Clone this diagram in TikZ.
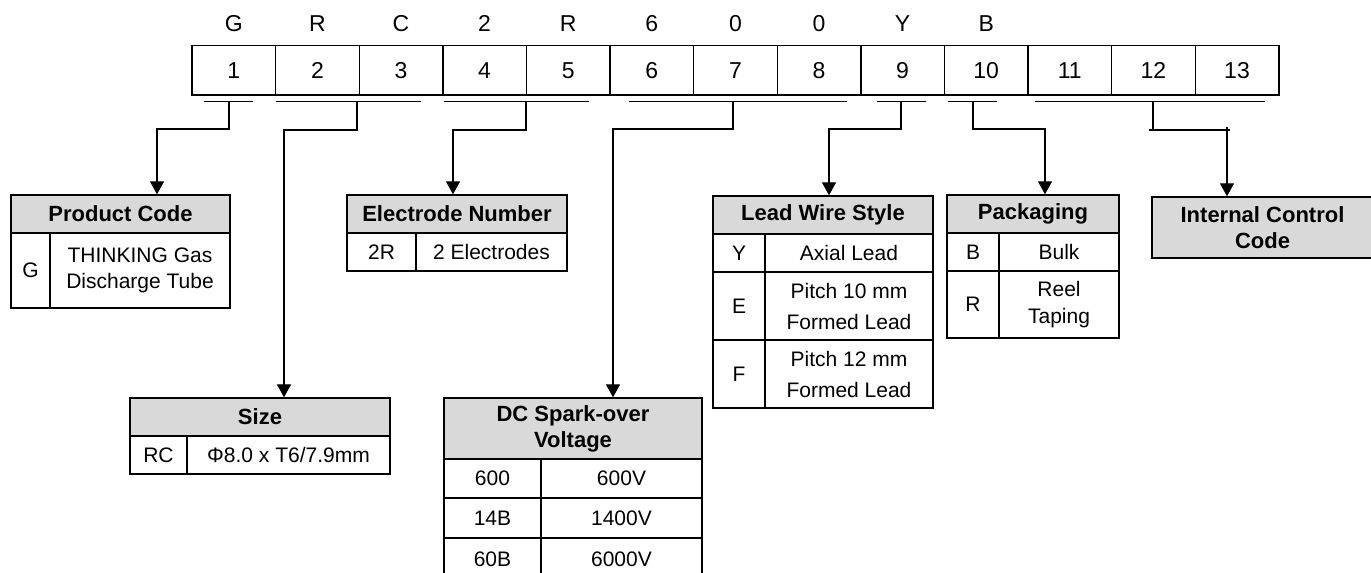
\documentclass[tikz,border=0pt]{standalone}
\usepackage{fontspec}
\setmainfont{Liberation Sans}
\usetikzlibrary{arrows.meta}
\definecolor{hdr}{HTML}{D9D9D9}
\newcommand\tabcell[7][]{\node[#1,minimum width={#4-#2},minimum height={#5-#3}] (#6) at ({(#2+#4)/2},{(#3+#5)/2}) {#7};}
\begin{document}
\begin{tikzpicture}[x=1pt,y=-1pt,
 box/.style={draw,line width=1.4pt,inner sep=0pt,align=center},
 hd/.style={box,fill=hdr,font=\fontsize{22}{26}\selectfont\bfseries},
 bd/.style={box,font=\fontsize{21}{25.5}\selectfont},
 bdw/.style={box,font=\fontsize{21}{31}\selectfont},
 bdp/.style={box,font=\fontsize{21}{27}\selectfont},
 code/.style={draw,line width=1.4pt,minimum width=83.6pt,minimum height=49.5pt,inner sep=0pt,text height=16.5pt,text depth=0pt,font=\fontsize{23}{27}\selectfont},
 letter/.style={font=\fontsize{23}{27}\selectfont,inner sep=0pt,anchor=base},
 uline/.style={line width=1.1pt},
 conn/.style={line width=1.3pt},
 arr/.style={conn,-{Triangle[width=14pt,length=13pt]}}]
\useasboundingbox (0,0) rectangle (1371,573);
\clip (0,0) rectangle (1371,573);
% code row
\foreach \i in {1,...,13} \node[code] (c\i) at ({192+83.6*(\i-0.5)},70.25) {\i};
\foreach \l [count=\i] in {G,R,C,2,R,6,0,0,Y,B} \node[letter] (l\i) at ({192+83.6*(\i-0.5)},31.5) {\l};
% underlines
\draw[uline] (204,101.5) -- (253,101.5);
\draw[uline] (276,101.5) -- (421,101.5);
\draw[uline] (444,101.5) -- (589,101.5);
\draw[uline] (629,101.5) -- (847,101.5);
\draw[uline] (877,101.5) -- (926,101.5);
\draw[uline] (948,101.5) -- (997,101.5);
\draw[uline] (1035,101.5) -- (1265,101.5);
\coordinate (u1) at (229,101.5);
\coordinate (u2) at (357,101.5);
\coordinate (u3) at (526,101.5);
\coordinate (u4) at (733,101.5);
\coordinate (u5) at (901,101.5);
\coordinate (u6) at (973,101.5);
\coordinate (u7) at (1153,101.5);
\coordinate (e1) at (157,129);
\coordinate (e2) at (284,130);
\coordinate (e3) at (453,130);
\coordinate (e4) at (613,129);
\coordinate (e5) at (829,129);
\coordinate (e6) at (1045,129);
\coordinate (e7a) at (1149,130);
\coordinate (e7b) at (1230,130);
\coordinate (e7) at (1227,127);
% tables
\tabcell[hd]{11}{195}{230}{233}{pch}{Product Code}
\tabcell[bd]{11}{233}{50}{308}{pck}{G}
\tabcell[bd]{50}{233}{230}{308}{pcv}{THINKING Gas\\Discharge Tube}
\tabcell[hd]{347}{195}{567}{233}{enh}{Electrode Number}
\tabcell[bd]{347}{233}{416}{271}{enk}{2R}
\tabcell[bd]{416}{233}{567}{271}{env}{2 Electrodes}
\tabcell[hd]{130}{398}{390}{436}{szh}{Size}
\tabcell[bd]{130}{436}{187}{474}{szk}{RC}
\tabcell[bd]{187}{436}{390}{474}{szv}{Φ8.0 x T6/7.9mm}
\tabcell[hd]{444}{398}{702}{459}{dch}{DC Spark-over\\Voltage}
\tabcell[bd]{444}{459}{541}{498}{dck1}{600}
\tabcell[bd]{541}{459}{702}{498}{dcv1}{600V}
\tabcell[bd]{444}{498}{541}{538}{dck2}{14B}
\tabcell[bd]{541}{498}{702}{538}{dcv2}{1400V}
\tabcell[bd]{444}{538}{541}{580}{dck3}{60B}
\tabcell[bd]{541}{538}{702}{580}{dcv3}{6000V}
\tabcell[hd]{713}{196}{933}{234}{lwh}{Lead Wire Style}
\tabcell[bd]{713}{234}{765}{272}{lwk1}{Y}
\tabcell[bd]{765}{234}{933}{272}{lwv1}{Axial Lead}
\tabcell[bdw]{713}{272}{765}{340}{lwk2}{E}
\tabcell[bdw]{765}{272}{933}{340}{lwv2}{Pitch 10 mm\\Formed Lead}
\tabcell[bdw]{713}{340}{765}{408}{lwk3}{F}
\tabcell[bdw]{765}{340}{933}{408}{lwv3}{Pitch 12 mm\\Formed Lead}
\tabcell[hd]{947}{195}{1119}{233}{pkh}{Packaging}
\tabcell[bd]{947}{233}{999}{271}{pkk1}{B}
\tabcell[bd]{999}{233}{1119}{271}{pkv1}{Bulk}
\tabcell[bdp]{947}{271}{999}{338}{pkk2}{R}
\tabcell[bdp]{999}{271}{1119}{338}{pkv2}{Reel\\Taping}
\tabcell[hd]{1152}{197}{1373}{258}{ich}{Internal Control\\Code}
% connectors
\draw[arr] (u1) |- (e1) -- (e1 |- pch.north);
\draw[arr] (u2) |- (e2) -- (e2 |- szh.north);
\draw[arr] (u3) |- (e3) -- (e3 |- enh.north);
\draw[arr] (u4) |- (e4) -- (e4 |- dch.north);
\draw[arr] (u5) |- (e5) -- (e5 |- lwh.north);
\draw[arr] (u6) |- (e6) -- (e6 |- pkh.north);
\draw[conn] (u7) -- (u7 |- e7a);
\draw[conn] (e7a) -- (e7b);
\draw[arr] (e7) -- (e7 |- ich.north);
\end{tikzpicture}
\end{document}
